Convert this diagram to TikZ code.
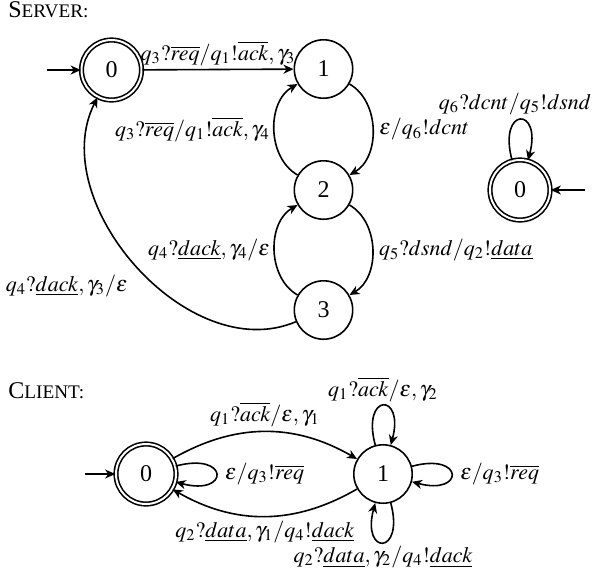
\documentclass[tikz,border=0pt]{standalone}
\usepackage{mathptmx}
\usepackage[no-math]{fontspec}
\setmainfont{Liberation Serif}
\usetikzlibrary{arrows.meta}
\tikzset{
  st/.style={circle, draw, line width=0.8pt, minimum size=29.2pt, inner sep=0pt, font=\fontsize{12}{14}\selectfont},
  acc/.style={st, minimum size=30pt, double, double distance=1pt},
  lbl/.style={font=\fontsize{11}{13}\selectfont, inner sep=2pt},
  arr/.style={line width=0.8pt, -{Stealth[length=5pt,width=4.5pt,inset=1.5pt]}},
  every loop/.style={arr, looseness=9},
  title/.style={anchor=base west, inner sep=0pt}
}
\begin{document}
\begin{tikzpicture}[x=0.5pt, y=-0.5pt]
\useasboundingbox (0,0) rectangle (593,575);
% titles
\node[title] (ts) at (8,17) {\fontsize{12}{14}\selectfont S\fontsize{9.6}{11}\selectfont ERVER:};
\node[title] (tc) at (8,398) {\fontsize{12}{14}\selectfont C\fontsize{9.6}{11}\selectfont LIENT:};
% server states
\node[acc] (s0) at (111.5,70) {0};
\node[st] (s1) at (323.5,69) {1};
\node[st] (s2) at (323.5,190) {2};
\node[st] (s3) at (323.5,310) {3};
\node[acc] (r0) at (520,190) {0};
\coordinate (i0) at (47,70);
\coordinate (ir) at (585,190);
% server edges
\draw[arr] (i0) -- (s0);
\draw[arr] (ir) -- (r0);
\draw[arr] (s0) -- node[lbl, above, inner sep=1.5pt] {$q_3?\overline{req}/q_1!\overline{ack},\gamma_3$} (s1);
\draw[arr] (s2) to[bend left=60] node[lbl, left] {$q_3?\overline{req}/q_1!\overline{ack},\gamma_4$} (s1);
\draw[arr] (s1) to[bend left=60] node[lbl, right, inner sep=3pt] {$\varepsilon/q_6!dcnt$} (s2);
\draw[arr] (s3) to[bend left=60] node[lbl, left] {$q_4?\underline{dack},\gamma_4/\varepsilon$} (s2);
\draw[arr] (s2) to[bend left=60] node[lbl, right, inner sep=3pt] {$q_5?dsnd/q_2!\underline{data}$} (s3);
\draw[arr] (s3) to[out=203, in=243] node[lbl, pos=0.5, anchor=north east, xshift=-2pt, yshift=-2pt] {$q_4?\underline{dack},\gamma_3/\varepsilon$} (s0);
\draw (r0) edge[loop above] node[lbl, above, xshift=-2.5pt] {$q_6?dcnt/q_5!dsnd$} (r0);
% client
\node[acc] (c0) at (146,474) {0};
\node[st] (c1) at (383,474) {1};
\coordinate (ic) at (85,474);
\draw[arr] (ic) -- (c0);
\draw[arr] (c0) to[bend left=30] node[lbl, above] {$q_1?\overline{ack}/\varepsilon,\gamma_1$} (c1);
\draw[arr] (c1) to[bend left=30] node[lbl, below] {$q_2?\underline{data},\gamma_1/q_4!\underline{dack}$} (c0);
\draw (c0) edge[loop right] node[lbl, right, inner sep=4pt] {$\varepsilon/q_3!\overline{req}$} (c0);
\draw (c1) edge[loop above] node[lbl, above, inner sep=1.5pt] {$q_1?\overline{ack}/\varepsilon,\gamma_2$} (c1);
\draw (c1) edge[loop right] node[lbl, right, inner sep=4pt] {$\varepsilon/q_3!\overline{req}$} (c1);
\draw (c1) edge[loop below] node[lbl, below, inner sep=1.5pt] {$q_2?\underline{data},\gamma_2/q_4!\underline{dack}$} (c1);
\end{tikzpicture}
\end{document}
